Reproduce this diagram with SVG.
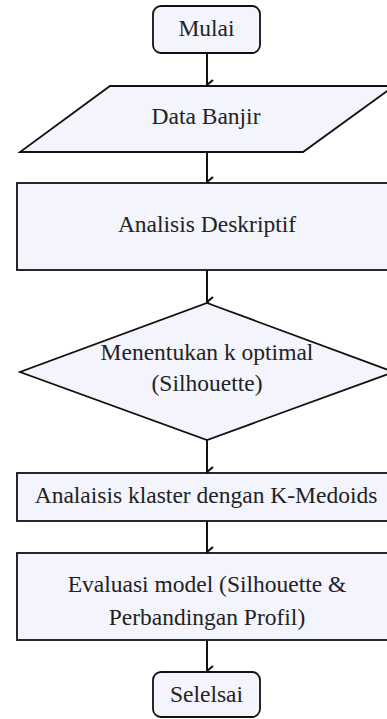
<svg xmlns="http://www.w3.org/2000/svg" width="387" height="719" viewBox="0 0 387 719">
<style>
.s{fill:#f4f4fc;stroke:#111;stroke-width:1.8}
.t{font-family:'Liberation Serif','Times New Roman','DejaVu Serif',serif;font-size:23.5px;fill:#222;text-anchor:middle}
.c{stroke:#111;stroke-width:2;fill:none}
</style>
<defs>
<marker id="ah" viewBox="0 0 12 10" refX="6" refY="9" markerWidth="12" markerHeight="10" markerUnits="userSpaceOnUse" orient="auto-start-reverse">
<path d="M1,3 L6,9 L11,3" fill="none" stroke="#111" stroke-width="2.2"/>
</marker>
</defs>
<rect width="387" height="719" fill="#fff"/>
<g id="connectors">
<line class="c" x1="207" y1="53" x2="207" y2="85" marker-end="url(#ah)"/>
<line class="c" x1="207" y1="152" x2="207" y2="182" marker-end="url(#ah)"/>
<line class="c" x1="207" y1="270" x2="207" y2="302" marker-end="url(#ah)"/>
<line class="c" x1="207" y1="440" x2="207" y2="472" marker-end="url(#ah)"/>
<line class="c" x1="207" y1="521" x2="207" y2="552" marker-end="url(#ah)"/>
<line class="c" x1="207" y1="640" x2="207" y2="671" marker-end="url(#ah)"/>
</g>
<g id="mulai">
<rect class="s" x="153" y="6" width="107" height="47" rx="8"/>
<text class="t" x="206.5" y="36" font-family="Liberation Serif, serif">Mulai</text>
</g>
<g id="data">
<polygon class="s" points="110,86 394,86 303,152 20,152"/>
<text class="t" x="206" y="124" font-family="Liberation Serif, serif">Data Banjir</text>
</g>
<g id="deskriptif">
<rect class="s" x="17" y="183" width="380" height="87"/>
<text class="t" x="207" y="232" font-family="Liberation Serif, serif">Analisis Deskriptif</text>
</g>
<g id="optimal">
<polygon class="s" points="207,303 394,372 207,440 20,372"/>
<text class="t" x="207" y="360" font-family="Liberation Serif, serif">Menentukan k optimal</text>
<text class="t" x="207" y="391" font-family="Liberation Serif, serif">(Silhouette)</text>
</g>
<g id="klaster">
<rect class="s" x="17" y="473" width="380" height="48"/>
<text class="t" x="206" y="503" font-family="Liberation Serif, serif">Analaisis klaster dengan K-Medoids</text>
</g>
<g id="evaluasi">
<rect class="s" x="17" y="553" width="380" height="87"/>
<text class="t" x="207" y="592" font-family="Liberation Serif, serif">Evaluasi model (Silhouette &amp;</text>
<text class="t" x="207" y="625" font-family="Liberation Serif, serif">Perbandingan Profil)</text>
</g>
<g id="selesai">
<rect class="s" x="153" y="672" width="107" height="45" rx="8"/>
<text class="t" x="206.5" y="702" font-family="Liberation Serif, serif">Selelsai</text>
</g>
</svg>
